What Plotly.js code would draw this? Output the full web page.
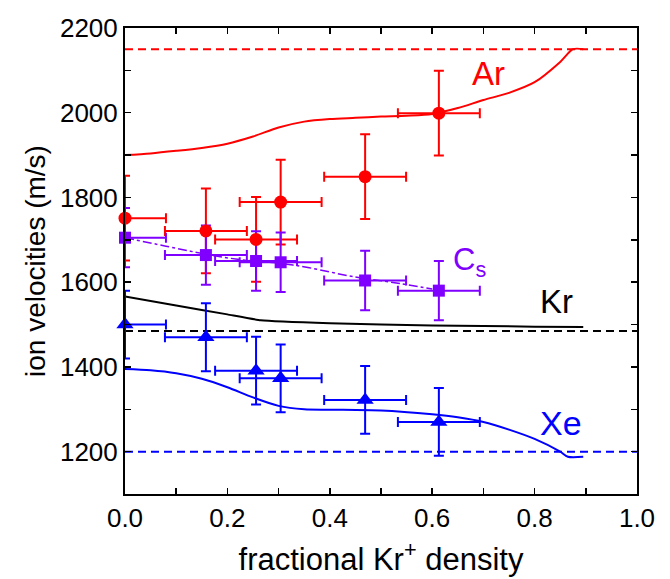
<!DOCTYPE html>
<html>
<head>
<meta charset="utf-8">
<script src="https://cdn.plot.ly/plotly-3.0.1.min.js"></script>
<style>html,body{margin:0;padding:0;background:#fff;} #chart{width:670px;height:579px;}</style>
</head>
<body>
<div id="chart"></div>
<script>
// Measured points (fractional Kr+ density vs ion velocity)
const xPts = [0.0, 0.158, 0.256, 0.304, 0.469, 0.613];
const xErr = [0.08, 0.08, 0.08, 0.08, 0.08, 0.08];
const arY = [1751, 1721, 1701, 1789, 1849, 1999];
const arErr = [100, 100, 100, 100, 100, 100];
const csY = [1705, 1664, 1650, 1647, 1604, 1580];
const csErr = [70, 70, 70, 70, 70, 70];
const xeY = [1500, 1470, 1391, 1373, 1322, 1270];
const xeErr = [80, 80, 80, 80, 80, 80];

// Model curves
const arCurveX = [0, 0.05, 0.1, 0.15, 0.2, 0.25, 0.3, 0.35, 0.4, 0.45, 0.5, 0.55, 0.6, 0.65, 0.7, 0.75, 0.8, 0.85, 0.875, 0.895];
const arCurveY = [1900, 1904, 1910, 1917, 1927, 1944, 1965, 1979, 1985, 1988, 1991, 1993, 1997, 2011, 2030, 2047, 2072, 2120, 2150, 2150];
const csCurveX = [0, 0.08, 0.15, 0.22, 0.3, 0.36, 0.45, 0.52, 0.6];
const csCurveY = [1705, 1685, 1668, 1654, 1645, 1634, 1612, 1600, 1584];
const krCurveX = [0, 0.1, 0.2, 0.265, 0.4, 0.6, 0.8, 0.895];
const krCurveY = [1566, 1545, 1524, 1510, 1503, 1498, 1495, 1494];
const xeCurveX = [0, 0.05, 0.1, 0.15, 0.2, 0.25, 0.3, 0.35, 0.4, 0.5, 0.6, 0.65, 0.7, 0.75, 0.8, 0.85, 0.865, 0.895];
const xeCurveY = [1395, 1392, 1385, 1372, 1352, 1328, 1308, 1300, 1299, 1297, 1288, 1281, 1270, 1252, 1230, 1200, 1188, 1188];

// Asymptotic (single-species) velocities
const limitX = [0, 1];
const arLimit = 2150;
const krLimit = 1485;
const xeLimit = 1200;

const RED = '#ff0000', PURPLE = '#7f00ff', BLUE = '#0000ff', BLACK = '#000000';
const dashPat = '8px,5px';

function hline(v, color) {
  return {x: limitX, y: [v, v], mode: 'lines', line: {color: color, width: 2, dash: dashPat}, hoverinfo: 'skip'};
}
function bars(y, yerr, color) {
  return {
    x: xPts, y: y, mode: 'markers',
    marker: {color: color, size: 1, opacity: 0},
    error_y: {type: 'data', array: yerr, visible: true, color: color, thickness: 2, width: 5},
    error_x: {type: 'data', array: xErr, visible: true, color: color, thickness: 2, width: 5}
  };
}
function marks(y, color, symbol, size) {
  return {x: xPts, y: y, mode: 'markers', cliponaxis: false,
    marker: {color: color, symbol: symbol, size: size}};
}

const data = [
  hline(arLimit, RED), hline(krLimit, BLACK), hline(xeLimit, BLUE),
  {x: arCurveX, y: arCurveY, mode: 'lines', line: {color: RED, width: 2, shape: 'spline', smoothing: 0.8}},
  {x: krCurveX, y: krCurveY, mode: 'lines', line: {color: BLACK, width: 2, shape: 'spline', smoothing: 0.3}},
  {x: xeCurveX, y: xeCurveY, mode: 'lines', line: {color: BLUE, width: 2, shape: 'spline', smoothing: 0.8}},
  {x: csCurveX, y: csCurveY, mode: 'lines', line: {color: PURPLE, width: 1.5, dash: 'dashdot', shape: 'spline'}},
  bars(xeY, xeErr, BLUE),
  bars(arY, arErr, RED),
  bars(csY, csErr, PURPLE),
  marks(xeY, BLUE, 'triangle-up', 15),
  marks(arY, RED, 'circle', 13),
  marks(csY, PURPLE, 'square', 12)
];

const tickFont = {family: '"Liberation Sans", Arial, sans-serif', size: 26, color: '#000'};
const titleFont = {family: '"Liberation Sans", Arial, sans-serif', size: 31, color: '#000'};
const annFont = (c, s) => ({family: '"Liberation Sans", Arial, sans-serif', size: s, color: c});

const layout = {
  width: 670, height: 579,
  margin: {l: 125, r: 33, t: 28, b: 85},
  paper_bgcolor: '#fff', plot_bgcolor: '#fff',
  showlegend: false,
  xaxis: {
    range: [0, 1], dtick: 0.2, tick0: 0, tickformat: '.1f',
    ticks: 'inside', ticklen: 6, tickwidth: 1.5, tickcolor: '#000',
    minor: {dtick: 0.1, ticks: 'inside', ticklen: 6, tickwidth: 1.5, tickcolor: '#000'},
    showline: true, linecolor: '#000', linewidth: 2, mirror: 'ticks',
    showgrid: false, zeroline: false,
    tickfont: tickFont,
    title: {text: 'fractional Kr<sup>+</sup> density', font: titleFont, standoff: 16},
    automargin: false
  },
  yaxis: {
    range: [1100, 2200], dtick: 200, tick0: 1200,
    ticks: 'inside', ticklen: 6, tickwidth: 1.5, tickcolor: '#000',
    minor: {dtick: 100, ticks: 'inside', ticklen: 6, tickwidth: 1.5, tickcolor: '#000'},
    showline: true, linecolor: '#000', linewidth: 2, mirror: 'ticks',
    showgrid: false, zeroline: false,
    tickfont: tickFont,
    title: {text: 'ion velocities (m/s)', font: {family: '"Liberation Sans", Arial, sans-serif', size: 28, color: '#000'}, standoff: 6},
    automargin: false
  },
  annotations: [
    {x: 0.71, y: 2093, xref: 'x', yref: 'y', text: 'Ar', showarrow: false, font: annFont(RED, 33)},
    {x: 0.673, y: 1648, xref: 'x', yref: 'y', text: 'C<sub>s</sub>', showarrow: false, font: annFont(PURPLE, 31)},
    {x: 0.843, y: 1555, xref: 'x', yref: 'y', text: 'Kr', showarrow: false, font: annFont(BLACK, 33)},
    {x: 0.851, y: 1268, xref: 'x', yref: 'y', text: 'Xe', showarrow: false, font: annFont(BLUE, 34)}
  ]
};

Plotly.newPlot('chart', data, layout, {displayModeBar: false, staticPlot: true});
</script>
</body>
</html>
